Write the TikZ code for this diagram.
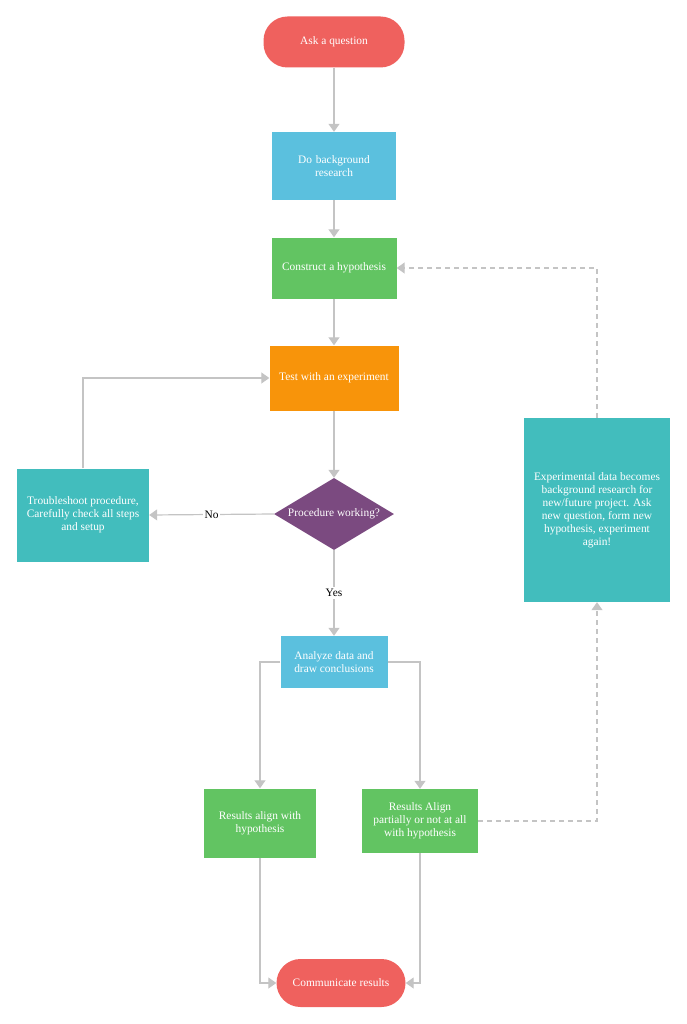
\documentclass[tikz,border=0pt]{standalone}
\usepackage{fontspec}
\setmainfont{Liberation Serif}
\usetikzlibrary{arrows.meta,shapes.geometric}
\definecolor{askred}{HTML}{EF615E}
\definecolor{stepblue}{HTML}{5BC0DE}
\definecolor{stepgreen}{HTML}{62C462}
\definecolor{steporange}{HTML}{F8940A}
\definecolor{decpurple}{HTML}{7B4A80}
\definecolor{noteteal}{HTML}{42BDBD}
\definecolor{linegray}{HTML}{C4C4C4}
\tikzset{
    box/.style={rectangle, inner sep=2pt, text=white, align=center,
        font=\fontsize{11.4}{13}\selectfont},
    terminal/.style={box, rounded corners=24pt},
    flow/.style={draw=linegray, line width=1.2pt,
        -{Triangle[width=11pt,length=8pt]}},
    loopback/.style={flow, dashed, dash pattern=on 5pt off 4pt},
    tag/.style={fill=white, inner sep=2pt, font=\fontsize{11.4}{13}\selectfont}
}
\begin{document}
\begin{tikzpicture}[x=1pt, y=-1pt]
        \useasboundingbox (0,0) rectangle (687,1024);
        % main column
        \node [terminal, fill=askred, minimum width=141pt, minimum height=51pt] (ask) at (334,42) {Ask a question};
        \node [box, fill=stepblue, minimum width=124pt, minimum height=68pt, text width=100pt] (research) at (334,166) {Do background\\research};
        \node [box, fill=stepgreen, minimum width=125pt, minimum height=61pt] (hypo) at (334,268) {Construct a hypothesis};
        \node [box, fill=steporange, minimum width=129pt, minimum height=65pt] (test) at (334,378) {Test with an experiment};
        \node [diamond, aspect=1.667, fill=decpurple, text=white, inner sep=0pt, minimum width=120pt, minimum height=72pt, font=\fontsize{11.4}{13}\selectfont] (works) at (334,514) {\makebox[0pt]{Procedure working?}};
        \node [box, fill=noteteal, minimum width=132pt, minimum height=93pt] (trouble) at (83,515) {Troubleshoot procedure,\\Carefully check all steps\\and setup};
        \node [box, fill=stepblue, minimum width=107pt, minimum height=52pt] (analyze) at (334,662) {Analyze data and\\draw conclusions};
        % results
        \node [box, fill=stepgreen, minimum width=112pt, minimum height=69pt] (agree) at (260,823) {Results align with\\hypothesis};
        \node [box, fill=stepgreen, minimum width=116pt, minimum height=64pt] (partial) at (420,821) {Results Align\\partially or not at all\\with hypothesis};
        \node [box, fill=noteteal, minimum width=146pt, minimum height=184pt] (again) at (597,510) {Experimental data becomes\\background research for\\new/future project. Ask\\new question, form new\\hypothesis, experiment\\again!};
        \node [terminal, fill=askred, minimum width=129pt, minimum height=48pt] (share) at (341,983) {Communicate results};
        % connectors
        \draw [flow] (ask) -- (research);
        \draw [flow] (research) -- (hypo);
        \draw [flow] (hypo) -- (test);
        \draw [flow] (test) -- (works);
        \draw [flow] (works.west) -- node [tag] {No} (trouble.east);
        \draw [flow] (trouble.north) |- (test.west);
        \draw [flow] (works.south) -- node [tag] {Yes} (analyze.north);
        \draw [flow] (analyze.west) -| (agree.north);
        \draw [flow] (analyze.east) -| (partial.north);
        \draw [flow] (agree.south) |- (share.west);
        \draw [flow] (partial.south) |- (share.east);
        \draw [loopback] (partial.east) -| (again.south);
        \draw [loopback] (again.north) |- (hypo.east);
    \end{tikzpicture}
\end{document}
